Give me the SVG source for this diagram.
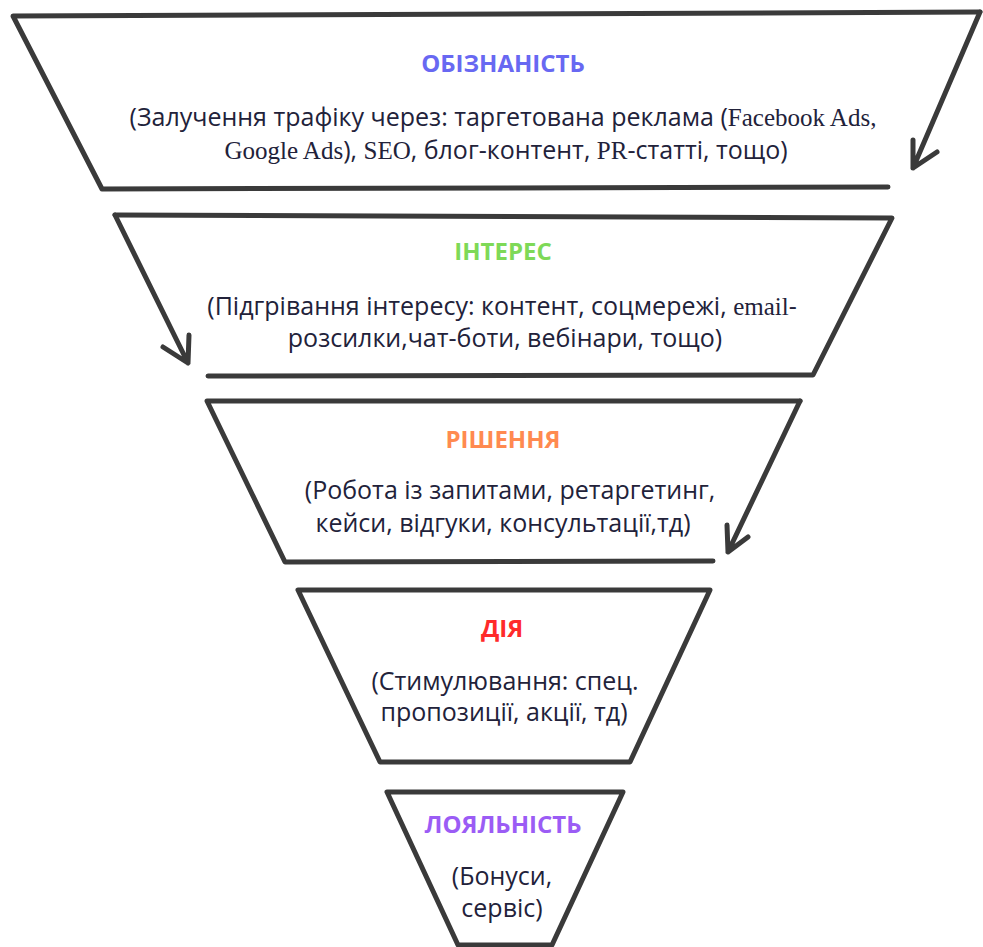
<svg xmlns="http://www.w3.org/2000/svg" width="983" height="947" viewBox="0 0 983 947">
<defs>
<style>
.edge{fill:none;stroke:#3a3a3a;stroke-width:5;stroke-linecap:round;stroke-linejoin:round}
.title{font-family:"Open Sans","Noto Sans","DejaVu Sans",sans-serif;font-weight:bold;font-size:24px;text-anchor:middle}
.body{font-family:"Open Sans","Noto Sans","DejaVu Sans",sans-serif;font-size:25px;fill:#22223a;text-anchor:middle}
.serif{font-family:"Liberation Serif","Times New Roman",serif}
</style>
</defs>
<rect width="983" height="947" fill="#ffffff"/>
<g id="stage-awareness">
<path class="edge" d="M980,12 L13,16 L102,189 L888,187"/>
<text class="title" x="503" y="72" fill="#6868f2">ОБІЗНАНІСТЬ</text>
<text class="body" x="503" y="126">(Залучення трафіку через: таргетована реклама (<tspan class="serif">Facebook Ads,</tspan></text>
<text class="body" x="506" y="159"><tspan class="serif">Google Ads</tspan>), <tspan class="serif">SEO</tspan>, блог-контент, <tspan class="serif">PR</tspan>-статті, тощо)</text>
</g>
<g id="stage-interest">
<path class="edge" d="M115,215 L892,218 L813,375 L208,376"/>
<text class="title" x="503" y="260" fill="#7ed957">ІНТЕРЕС</text>
<text class="body" x="502" y="315">(Підгрівання інтересу: контент, соцмережі, <tspan class="serif">email</tspan>-</text>
<text class="body" x="505" y="347">розсилки,чат-боти, вебінари, тощо)</text>
</g>
<g id="stage-decision">
<path class="edge" d="M800,401 L207,401 L285,562 L713,561"/>
<text class="title" x="503" y="448" fill="#ff8a50">РІШЕННЯ</text>
<text class="body" x="510" y="499">(Робота із запитами, ретаргетинг,</text>
<text class="body" x="503" y="532">кейси, відгуки, консультації,тд)</text>
</g>
<g id="stage-action">
<path class="edge" d="M298,590 L710,590 L630,762 L380,762 Z"/>
<text class="title" x="502" y="637" fill="#ff2a2a">ДІЯ</text>
<text class="body" x="505" y="690">(Стимулювання: спец.</text>
<text class="body" x="504" y="721">пропозиції, акції, тд)</text>
</g>
<g id="stage-loyalty">
<path class="edge" d="M387,792 L623,792 L552,945 L458,945 Z"/>
<text class="title" x="503" y="833" fill="#9b5cf5">ЛОЯЛЬНІСТЬ</text>
<text class="body" x="502" y="885">(Бонуси,</text>
<text class="body" x="502" y="917">сервіс)</text>
</g>
<g id="connectors">
<path class="edge" d="M980,12 L913,168 M913,140 L913,168 L937,152"/>
<path class="edge" d="M115,215 L188,363 M163,347 L188,363 L189,335"/>
<path class="edge" d="M800,401 L728,552 M727,525 L728,552 L748,537"/>
</g>
</svg>
